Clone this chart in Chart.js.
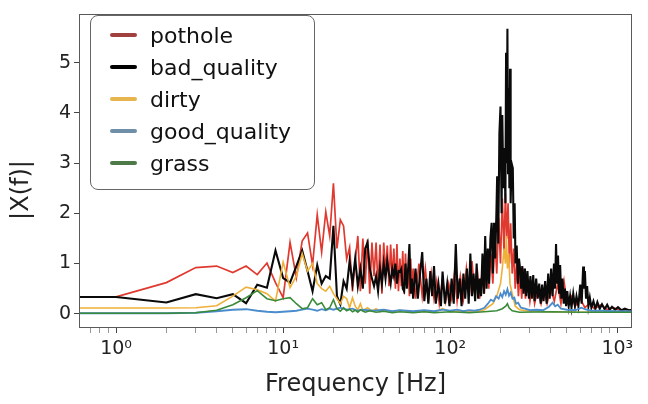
<!DOCTYPE html>
<html>
<head>
<meta charset="utf-8">
<script src="https://cdn.jsdelivr.net/npm/chart.js@4.4.1/dist/chart.umd.min.js"></script>
<style>
  html, body { margin: 0; padding: 0; background: #fff; }
  #wrap { position: relative; width: 648px; height: 404px; }
  #legend {
    position: absolute; left: 90px; top: 15px; width: 225px; height: 175px;
    box-sizing: border-box; border: 1px solid #666; border-radius: 8px;
    background: rgba(255,255,255,0.85); padding-top: 3px;
    font-family: 'DejaVu Sans', sans-serif; font-size: 22px; color: #111;
  }
  .item { height: 32px; display: flex; align-items: center; white-space: nowrap; }
  .swatch { width: 27px; height: 4px; border-radius: 2px; margin-left: 19px; margin-right: 13px; }
</style>
</head>
<body>
<div id="wrap">
  <canvas id="chart" width="648" height="404"></canvas>
  <div id="legend"></div>
</div>
<script>
// Series names, in legend order
const seriesNames = ['pothole', 'bad_quality', 'dirty', 'good_quality', 'grass'];

// |X(f)| spectra (frequency in Hz, amplitude)
const potholeFreq = [0.5, 1, 2, 3, 4, 5, 6, 7, 8, 9,
  10, 11, 12, 13, 14, 15, 16, 17, 18, 19,
  20, 21, 22, 23, 24, 25, 26, 27, 28, 29,
  30, 31, 32, 33, 34, 35, 36, 37, 38, 39,
  40, 41, 42, 43, 44, 45, 46, 47, 48, 49,
  50, 51, 52, 53, 54, 55, 56, 57, 58, 59,
  60, 62, 65, 68, 71, 74, 77, 80, 83, 86,
  90, 94, 98, 102, 106, 110, 115, 120, 125, 130,
  135, 140, 145, 150, 155, 160, 165, 170, 175, 180,
  185, 190, 195, 200, 205, 210, 214, 218, 222, 226,
  230, 235, 240, 245, 250, 256, 262, 268, 275, 282,
  290, 300, 310, 320, 335, 350, 365, 380, 400, 420,
  440, 460, 480, 500, 530, 560, 600, 640, 680, 730,
  800, 870, 950, 1050, 1150, 1300];
const potholeAmp = [0.335, 0.335, 0.62, 0.92, 0.95, 0.82, 0.95, 0.78, 1.01, 0.62,
  0.32, 1.42, 0.72, 1.45, 1.61, 0.97, 1.97, 1.23, 2.03, 1.55,
  2.6, 1.3, 1.87, 1.75, 1.09, 1.32, 0.45, 1.03, 1.55, 0.45,
  1.5, 0.6, 1.48, 0.4, 1.42, 0.75, 1.42, 0.5, 1.38, 0.4,
  1.42, 0.8, 1.36, 0.55, 1.38, 0.7, 1.3, 0.5, 1.39, 0.45,
  1.1, 0.55, 1.25, 0.4, 1.2, 0.6, 0.9, 0.35, 1.1, 0.5,
  0.9, 0.3, 1.0, 0.35, 0.9, 0.25, 0.8, 0.3, 0.65, 0.2,
  0.7, 0.25, 0.6, 0.3, 0.8, 0.25, 0.75, 0.3, 0.9, 0.35,
  1.05, 0.4, 0.9, 0.3, 0.8, 0.4, 1.0, 0.5, 1.2, 0.6,
  1.5, 0.8, 1.9, 1.0, 2.3, 1.2, 2.4, 1.5, 2.2, 1.0,
  1.8, 0.8, 1.3, 0.5, 1.0, 0.35, 0.8, 0.3, 0.9, 0.3,
  0.7, 0.25, 0.6, 0.2, 0.5, 0.2, 0.45, 0.2, 0.5, 0.25,
  0.6, 0.2, 0.65, 0.2, 0.35, 0.15, 0.3, 0.12, 0.2, 0.1,
  0.18, 0.08, 0.12, 0.06, 0.08, 0.06];

const badFreq = [0.5, 1, 2, 3, 4, 5, 6, 7, 8, 9,
  10, 11, 12, 13, 14, 15, 16, 17, 18, 19,
  20, 21, 22, 23, 24, 25, 26, 27, 28, 29,
  30, 31, 32, 33, 34, 35, 36, 37, 38, 39,
  40, 41, 42, 43, 44, 45, 46, 47, 48, 49,
  50, 51, 52, 53, 54, 55, 56, 57, 58, 59,
  60, 62, 64, 66, 68, 70, 72, 74, 76, 78,
  80, 82, 85, 88, 90, 93, 96, 99, 102, 105,
  108, 111, 114, 117, 120, 123, 126, 129, 132, 135,
  138, 141, 144, 147, 150, 153, 156, 159, 162, 165,
  168, 171, 174, 177, 180, 183, 186, 189, 191, 194,
  197, 200, 203, 205, 208, 211, 214, 216, 218, 220,
  222, 224, 226, 228, 230, 233, 237, 240, 243, 246,
  250, 254, 258, 262, 266, 270, 275, 280, 285, 290,
  296, 302, 308, 314, 320, 327, 334, 341, 348, 355,
  362, 370, 378, 386, 394, 402, 410, 418, 424, 430,
  436, 442, 448, 455, 462, 470, 478, 486, 494, 502,
  512, 522, 532, 545, 558, 570, 585, 600, 612, 625,
  632, 640, 650, 660, 672, 685, 700, 720, 740, 760,
  785, 810, 840, 870, 900, 930, 970, 1010, 1060, 1110,
  1170, 1250];
const badAmp = [0.335, 0.335, 0.225, 0.39, 0.31, 0.39, 0.21, 0.58, 0.52, 1.26,
  0.71, 0.62, 0.95, 1.26, 0.85, 0.45, 0.97, 0.6, 0.75, 0.7,
  1.75, 0.35, 0.19, 0.65, 0.5, 1.05, 0.6, 1.1, 0.55, 0.9,
  0.5, 1.3, 1.42, 0.9, 0.7, 0.55, 0.75, 0.45, 0.9, 0.6,
  1.0, 0.7, 1.05, 0.8, 0.6, 0.9, 0.75, 1.0, 0.6, 0.85,
  0.84, 0.9, 0.5, 0.45, 1.0, 0.5, 0.9, 1.39, 0.4, 0.7,
  0.3, 0.9, 0.3, 0.8, 1.23, 0.25, 0.7, 0.2, 0.85, 0.35,
  0.95, 0.2, 0.6, 0.15, 0.84, 0.2, 0.6, 0.15, 0.7, 0.2,
  1.39, 0.3, 0.7, 0.15, 0.8, 0.3, 0.9, 0.2, 1.2, 0.35,
  0.8, 0.25, 1.0, 0.3, 0.7, 0.35, 1.2, 0.4, 1.55, 0.5,
  1.3, 0.6, 1.5, 1.81, 0.8, 1.81, 1.1, 2.0, 2.74, 1.4,
  3.6, 4.13, 2.0, 3.96, 2.5, 3.3, 2.2, 5.2, 3.0, 5.68,
  2.8, 4.5, 2.5, 4.88, 2.2, 3.0, 2.9, 1.5, 2.2, 1.0,
  1.36, 0.6, 1.1, 0.9, 0.5, 0.95, 0.4, 0.9, 0.35, 0.85,
  0.3, 0.75, 0.3, 0.77, 0.25, 0.7, 0.3, 0.6, 0.2, 0.58,
  0.25, 0.65, 0.2, 0.8, 0.3, 0.9, 0.35, 1.0, 0.5, 1.39,
  0.6, 1.16, 0.4, 0.97, 0.3, 0.7, 0.2, 0.5, 0.15, 0.45,
  0.15, 0.35, 0.12, 0.4, 0.15, 0.35, 0.15, 0.58, 0.2, 0.94,
  0.5, 0.85, 0.3, 0.55, 0.15, 0.32, 0.12, 0.25, 0.1, 0.23,
  0.1, 0.19, 0.09, 0.18, 0.08, 0.14, 0.08, 0.13, 0.07, 0.1,
  0.07, 0.08];

const dirtyFreq = [0.5, 1, 2, 3, 4, 5, 6, 7, 8, 9,
  10, 11, 12, 13, 14, 15, 16, 17, 18, 19,
  20, 21, 22, 23, 24, 25, 26, 27, 28, 29,
  30, 32, 34, 36, 38, 40, 45, 50, 60, 70,
  80, 90, 100, 120, 140, 160, 180, 190, 200, 205,
  210, 214, 217, 220, 224, 228, 235, 245, 260, 300,
  400, 600, 1300];
const dirtyAmp = [0.115, 0.115, 0.115, 0.12, 0.16, 0.35, 0.53, 0.48, 0.4, 0.25,
  1.03, 0.52, 0.75, 1.2, 0.85, 1.0, 0.6, 0.5, 0.45, 0.55,
  0.4, 0.3, 0.2, 0.35, 0.3, 0.12, 0.32, 0.15, 0.08, 0.2,
  0.06, 0.12, 0.05, 0.1, 0.04, 0.08, 0.04, 0.07, 0.03, 0.05,
  0.03, 0.1, 0.04, 0.06, 0.03, 0.08, 0.2, 0.35, 0.6, 0.9,
  1.3, 1.0, 1.55, 0.9, 1.2, 0.6, 0.4, 0.15, 0.08, 0.05,
  0.04, 0.03, 0.03];

const goodFreq = [0.5, 1, 2, 3, 4, 5, 6, 7, 8, 9,
  10, 11, 12, 13, 14, 15, 16, 17, 18, 19,
  20, 22, 24, 26, 28, 30, 35, 40, 45, 50,
  60, 70, 80, 90, 100, 110, 120, 130, 140, 150,
  160, 168, 175, 182, 188, 195, 200, 205, 210, 215,
  220, 225, 230, 236, 242, 248, 255, 265, 280, 300,
  330, 360, 390, 410, 425, 440, 460, 500, 560, 610,
  640, 700, 800, 1000, 1300];
const goodAmp = [0.01, 0.01, 0.01, 0.02, 0.05, 0.08, 0.09, 0.06, 0.04, 0.03,
  0.04, 0.05, 0.06, 0.08, 0.1, 0.08, 0.06, 0.09, 0.07, 0.1,
  0.08, 0.12, 0.08, 0.1, 0.06, 0.08, 0.06, 0.08, 0.05, 0.07,
  0.05, 0.07, 0.05, 0.08, 0.06, 0.08, 0.05, 0.07, 0.06, 0.08,
  0.12, 0.2, 0.28, 0.25, 0.35, 0.3, 0.4, 0.33, 0.45, 0.38,
  0.49, 0.36, 0.42, 0.3, 0.32, 0.2, 0.22, 0.12, 0.1, 0.07,
  0.08, 0.07, 0.14, 0.22, 0.15, 0.18, 0.1, 0.08, 0.07, 0.12,
  0.09, 0.06, 0.06, 0.05, 0.05];

const grassFreq = [0.5, 1, 2, 3, 4, 5, 6, 7, 8, 9,
  10, 11, 12, 13, 14, 15, 16, 17, 18, 19,
  20, 21, 22, 23, 24, 25, 26, 27, 28, 29,
  31, 33, 36, 40, 45, 50, 60, 70, 80, 100,
  130, 160, 190, 205, 215, 220, 225, 235, 260, 400,
  600, 1300];
const grassAmp = [0.01, 0.01, 0.01, 0.02, 0.07, 0.18, 0.32, 0.46, 0.3, 0.26,
  0.3, 0.32, 0.2, 0.1, 0.12, 0.3, 0.18, 0.22, 0.08, 0.12,
  0.28, 0.1, 0.05, 0.12, 0.06, 0.09, 0.04, 0.07, 0.03, 0.08,
  0.03, 0.06, 0.03, 0.05, 0.02, 0.04, 0.02, 0.04, 0.02, 0.04,
  0.02, 0.04, 0.06, 0.1, 0.15, 0.2, 0.12, 0.06, 0.03, 0.04,
  0.03, 0.03];

// Axis ticks
const xTickValues = [1, 10, 100, 1000];
const xTickLabels = ['10\u2070', '10\u00b9', '10\u00b2', '10\u00b3'];
const yTickValues = [0, 1, 2, 3, 4, 5];

const seriesFreq = [potholeFreq, badFreq, dirtyFreq, goodFreq, grassFreq];
const seriesAmp = [potholeAmp, badAmp, dirtyAmp, goodAmp, grassAmp];

// line colour, legend swatch colour, line width
const LINE_COLORS = ['#e03a30', '#0a0a0a', '#efb03a', '#4a8ccc', '#3a8a3a'];
const SWATCH_COLORS = ['#a0403f', '#000000', '#e6b54e', '#6f8ea8', '#4d7a48'];
const LINE_WIDTHS = [1.7, 2.1, 1.6, 1.8, 1.6];

const FONT = "'DejaVu Sans', sans-serif";

const datasets = seriesNames.map((name, i) => ({
  label: name,
  data: seriesFreq[i].map((f, k) => ({ x: f, y: seriesAmp[i][k] })),
  borderColor: LINE_COLORS[i],
  backgroundColor: LINE_COLORS[i],
  borderWidth: LINE_WIDTHS[i],
  pointRadius: 0,
  tension: 0,
  fill: false,
  order: seriesNames.length - i   // later series drawn on top
}));

// minor + major ticks on the log axis
function logTicks(min, max) {
  const out = [];
  for (let e = -1; e <= 4; e++) {
    for (let m = 1; m <= 9; m++) {
      const v = m * Math.pow(10, e);
      if (v >= min && v <= max) out.push({ value: v, major: m === 1 });
    }
  }
  return out;
}

const framePlugin = {
  id: 'frame',
  afterDatasetsDraw(chart) {
    const { ctx, chartArea: a } = chart;
    ctx.save();
    ctx.strokeStyle = '#5a5a5a';
    ctx.lineWidth = 1;
    ctx.strokeRect(Math.round(a.left) + 0.5, Math.round(a.top) + 0.5,
      Math.round(a.right - a.left) - 1, Math.round(a.bottom - a.top) - 1);
    // y axis title
    ctx.translate(22, 190);
    ctx.rotate(-Math.PI / 2);
    ctx.font = '24px ' + FONT;
    ctx.fillStyle = '#222';
    ctx.textAlign = 'center';
    ctx.textBaseline = 'middle';
    ctx.fillText('|X(f)|', 0, 0);
    ctx.restore();
  }
};

const X_MIN = 0.64, X_MAX = 1225;

new Chart(document.getElementById('chart'), {
  type: 'line',
  data: { datasets },
  plugins: [framePlugin],
  options: {
    responsive: false,
    animation: false,
    events: [],
    layout: { padding: { top: 5, right: 16, left: 0, bottom: 0 } },
    plugins: { legend: { display: false }, tooltip: { enabled: false } },
    scales: {
      x: {
        type: 'logarithmic',
        min: X_MIN,
        max: X_MAX,
        afterBuildTicks: s => { s.ticks = logTicks(X_MIN, X_MAX); },
        afterFit: s => { s.height = 76; },
        border: { display: false },
        grid: {
          drawOnChartArea: false,
          drawTicks: true,
          tickLength: 5,
          tickColor: c => (c.tick && c.tick.major) ? '#444' : '#999'
        },
        ticks: {
          autoSkip: false,
          maxRotation: 0,
          padding: 5,
          color: '#222',
          font: { family: FONT, size: 19 },
          callback: v => {
            const k = xTickValues.indexOf(v);
            return k >= 0 ? xTickLabels[k] : '';
          }
        },
        title: {
          display: true,
          text: 'Frequency [Hz]',
          color: '#222',
          font: { family: FONT, size: 24 },
          padding: { top: 0, bottom: 5 }
        }
      },
      y: {
        type: 'linear',
        min: -0.284,
        max: 5.964,
        afterBuildTicks: s => { s.ticks = yTickValues.map(v => ({ value: v })); },
        afterFit: s => { s.width = 79; },
        border: { display: false },
        grid: { drawOnChartArea: false, drawTicks: true, tickLength: 5, tickColor: '#444' },
        ticks: {
          padding: 3,
          color: '#222',
          font: { family: FONT, size: 19 }
        }
      }
    }
  }
});

// HTML legend inside the plot
const legendEl = document.getElementById('legend');
seriesNames.forEach((name, i) => {
  const row = document.createElement('div');
  row.className = 'item';
  row.innerHTML = `<span class="swatch" style="background:${SWATCH_COLORS[i]}"></span><span>${name}</span>`;
  legendEl.appendChild(row);
});
</script>
</body>
</html>
